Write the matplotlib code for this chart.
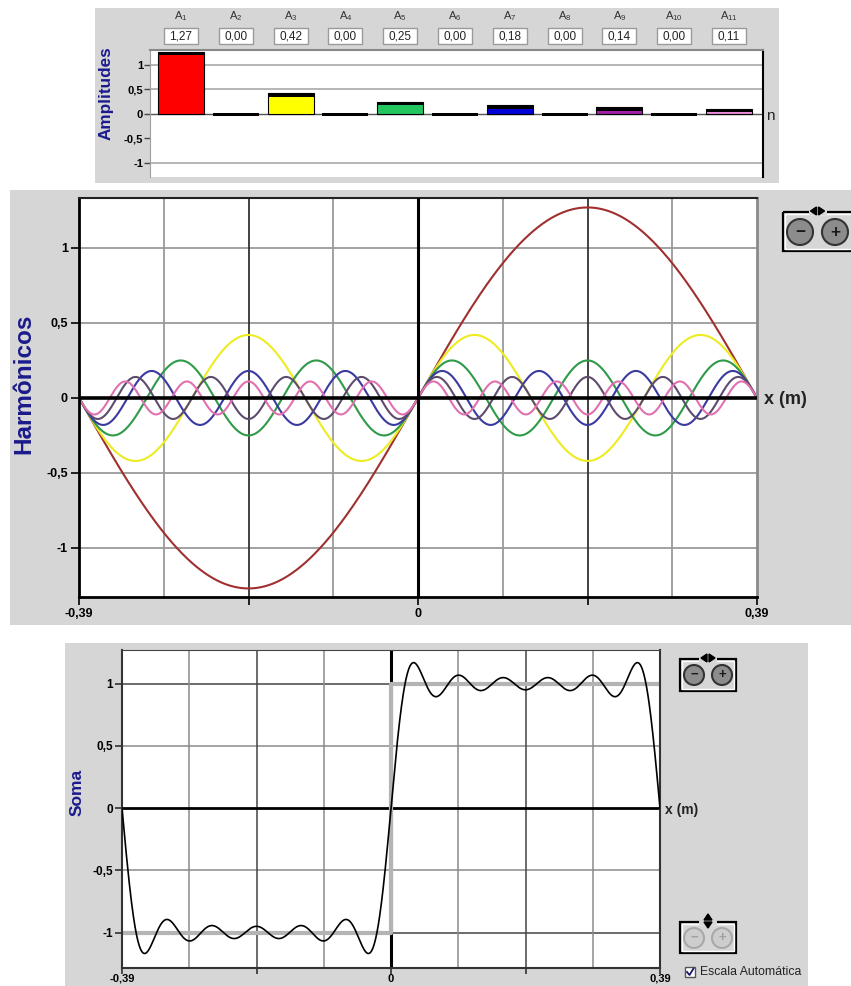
import numpy as np
import matplotlib
matplotlib.use('Agg')
import matplotlib.pyplot as plt
import matplotlib.transforms as mtransforms
from matplotlib.patches import Rectangle, Circle, Polygon

plt.rcParams['font.family'] = ['Liberation Sans', 'DejaVu Sans']

# ------------------------------------------------------------
#  data
# ------------------------------------------------------------
harm_n = [1, 2, 3, 4, 5, 6, 7, 8, 9, 10, 11]
amplitudes = [1.27, 0.00, 0.42, 0.00, 0.25, 0.00, 0.18, 0.00, 0.14, 0.00, 0.11]
amp_text = ['1,27', '0,00', '0,42', '0,00', '0,25', '0,00', '0,18', '0,00', '0,14', '0,00', '0,11']
bar_colors = ['#ff0000', '#000000', '#ffff00', '#000000', '#22c55e', '#000000',
              '#0000d8', '#000000', '#a020a8', '#000000', '#e88ad8']
curve_colors = ['#a03030', None, '#ecec20', None, '#2f9a48', None,
                '#3a3aa0', None, '#5e4c6e', None, '#e070b0']
half_len = 0.39          # x range is -0.39 .. 0.39 m
y_ticks = [-1, -0.5, 0, 0.5, 1]
y_tick_labels = ['-1', '-0,5', '0', '0,5', '1']
x_ticks = [-0.39, -0.195, 0, 0.195, 0.39]
x_tick_labels = ['-0,39', '', '0', '', '0,39']

W, H = 851, 986
NAVY = '#1a1a8c'
PANEL = '#d6d6d6'

fig = plt.figure(figsize=(W / 100, H / 100), dpi=100)
fig.patch.set_facecolor('white')


def px_axes(l, t, r, b, **kw):
    return fig.add_axes([l / W, 1 - b / H, (r - l) / W, (b - t) / H], **kw)


# background panels (pixel coordinates)
bg = px_axes(0, 0, W, H, zorder=-10)
bg.set_xlim(0, W); bg.set_ylim(H, 0); bg.axis('off')
for (l, t, r, b) in [(95, 8, 779, 183), (10, 190, 851, 625), (65, 643, 808, 986)]:
    bg.add_patch(Rectangle((l, t), r - l, b - t, facecolor=PANEL, edgecolor='none'))

# ============================================================
#  Panel 1: amplitudes
# ============================================================
ax1 = px_axes(150, 50, 763, 177)
ax1.set_xlim(0.434, 11.62)
ax1.set_ylim(-1.286, 1.306)
for v in [1, 0.5, -1]:
    ax1.axhline(v, color='#b0b0b0', lw=1.3, zorder=0)
ax1.axhline(0, color='#555555', lw=1.0, zorder=1)

strip = 0.07
for n, a, c in zip(harm_n, amplitudes, bar_colors):
    if a > 0:
        ax1.bar(n, a, width=0.84, color=c, edgecolor='black', lw=0.8, zorder=2)
        ax1.bar(n, strip, bottom=a - strip, width=0.84, color='black', zorder=3)
    else:
        ax1.bar(n, 0.06, bottom=-0.04, width=0.84, color='black', zorder=3)

blend = mtransforms.blended_transform_factory(ax1.transData, ax1.transAxes)
for n, t in zip(harm_n, amp_text):
    ax1.add_patch(Rectangle((n - 0.31, 1.045), 0.62, 0.13, transform=blend, clip_on=False,
                            facecolor='white', edgecolor='#9a9a9a', lw=1.0))
    ax1.text(n, 1.11, t, transform=blend, ha='center', va='center', fontsize=8.5, color='#222222')
    ax1.text(n, 1.27, '$\\mathregular{A_{%d}}$' % n, transform=blend, ha='center', va='center',
             fontsize=8, color='#333333')

ax1.set_xticks([])
ax1.set_yticks(y_ticks)
ax1.set_yticklabels(y_tick_labels, fontsize=8, fontweight='bold')
ax1.tick_params(axis='y', length=4, width=1, color='#444444', pad=1)
ax1.spines['left'].set_color('#a0a0a0')
ax1.spines['top'].set_color('#888888'); ax1.spines['top'].set_linewidth(1.5)
ax1.spines['right'].set_color('black'); ax1.spines['right'].set_linewidth(1.5)
ax1.spines['bottom'].set_visible(False)

# ============================================================
#  Panel 2: harmonics
# ============================================================
x = np.linspace(-half_len, half_len, 1200)
harmonics = [a * np.sin(n * np.pi * x / half_len) for n, a in zip(harm_n, amplitudes)]

ax2 = px_axes(79, 198, 757, 597)
ax2.set_xlim(-half_len, half_len)
ax2.set_ylim(-1.327, 1.333)
for v in [1, 0.5, -0.5, -1]:
    ax2.axhline(v, color='#9a9a9a', lw=1.3, zorder=0)
for i, v in enumerate(np.linspace(-half_len, half_len, 9)[1:-1]):
    if i == 3:
        continue
    dark = i in (1, 5)
    ax2.axvline(v, color='#333333' if dark else '#9a9a9a', lw=1.3, zorder=0)
ax2.axvline(0, color='black', lw=2.2, zorder=3)
ax2.axhline(0, color='black', lw=2.6, zorder=3)

for n, y, c in zip(harm_n, harmonics, curve_colors):
    if c is not None:
        ax2.plot(x, y, color=c, lw=1.5, zorder=2)

ax2.set_yticks(y_ticks)
ax2.set_yticklabels(y_tick_labels, fontsize=9, fontweight='bold')
ax2.set_xticks(x_ticks)
ax2.set_xticklabels(x_tick_labels, fontsize=9, fontweight='bold')
ax2.tick_params(axis='both', length=6, width=1.2, color='black', pad=2)
for s in ['left', 'bottom']:
    ax2.spines[s].set_linewidth(2)
ax2.spines['top'].set_linewidth(1.5); ax2.spines['top'].set_color('#222222')
ax2.spines['right'].set_linewidth(2); ax2.spines['right'].set_color('#8a8a8a')

# ============================================================
#  Panel 3: sum
# ============================================================
soma = np.sum(harmonics, axis=0)

ax3 = px_axes(122, 650, 660, 968)
ax3.set_xlim(-half_len, half_len)
ax3.set_ylim(-1.285, 1.27)
for v in [1, -1]:
    ax3.axhline(v, color='#444444', lw=1.1, zorder=0)
for v in [0.5, -0.5]:
    ax3.axhline(v, color='#8a8a8a', lw=1.1, zorder=0)
for i, v in enumerate(np.linspace(-half_len, half_len, 9)[1:-1]):
    if i == 3:
        continue
    dark = i in (1, 5)
    ax3.axvline(v, color='#444444' if dark else '#8a8a8a', lw=1.1, zorder=0)
ax3.axvline(0, color='black', lw=2.2, zorder=1)
ax3.axhline(0, color='black', lw=2.0, zorder=1)
# target square wave
ax3.plot([-half_len, 0, 0, half_len], [-1, -1, 1, 1], color='#b4b4b4', lw=3, zorder=2)
ax3.plot(x, soma, color='black', lw=1.2, zorder=3)

ax3.set_yticks(y_ticks)
ax3.set_yticklabels(y_tick_labels, fontsize=8.5, fontweight='bold')
ax3.set_xticks(x_ticks)
ax3.set_xticklabels(x_tick_labels, fontsize=8, fontweight='bold')
ax3.tick_params(axis='y', length=5, width=1.1, color='#222222', pad=1.5)
ax3.tick_params(axis='x', length=4, width=1.1, color='#222222', pad=0.3)
for s in ['left', 'bottom', 'right']:
    ax3.spines[s].set_linewidth(1.5); ax3.spines[s].set_color('#333333')
ax3.spines['top'].set_color('#444444')

# ============================================================
#  Overlay: labels, buttons, checkbox
# ============================================================
ov = px_axes(0, 0, W, H, zorder=10)
ov.set_xlim(0, W); ov.set_ylim(H, 0); ov.axis('off')
ov.patch.set_alpha(0)

ov.text(106, 93, 'Amplitudes', rotation=90, ha='center', va='center', fontsize=12.3,
        fontweight='bold', color=NAVY)
ov.text(24, 384, 'Harmônicos', rotation=90, ha='center', va='center', fontsize=17.5,
        fontweight='bold', color=NAVY)
ov.text(77, 792, 'Soma', rotation=90, ha='center', va='center', fontsize=12.5,
        fontweight='bold', color=NAVY)
ov.text(766, 116, 'n', ha='left', va='center', fontsize=11, color='#222222')
ov.text(764, 399, 'x (m)', ha='left', va='center', fontsize=13, fontweight='bold', color='#222222')
ov.text(665, 810, 'x (m)', ha='left', va='center', fontsize=10, fontweight='bold', color='#222222')


def zoom_button(x0, y0, w, h, r, cm, cp, arrows='h', active=True):
    face = '#8c8c8c' if active else '#cdcdcd'
    edge = '#333333' if active else '#a8a8a8'
    sign = '#1a1a1a' if active else '#a0a0a0'
    ov.add_patch(Rectangle((x0, y0), w, h, facecolor='none', edgecolor='black', lw=1.6))
    ov.add_patch(Rectangle((x0 + 2, y0 + 2), w - 4, h - 4, facecolor='none', edgecolor='white', lw=1))
    for (cx, cy), s in [(cm, '−'), (cp, '+')]:
        ov.add_patch(Circle((cx, cy), r, facecolor=face, edgecolor=edge, lw=1.5))
        ov.text(cx, cy, s, ha='center', va='center', fontsize=r * 0.95, fontweight='bold', color=sign)
    mx = (cm[0] + cp[0]) / 2
    ov.add_patch(Rectangle((mx - 9, y0 - 3), 18, 6, facecolor=PANEL, edgecolor='none'))
    if arrows == 'h':
        ov.add_patch(Polygon([(mx - 1, y0 - 5), (mx - 1, y0 + 3), (mx - 7, y0 - 1)], color='black'))
        ov.add_patch(Polygon([(mx + 1, y0 - 5), (mx + 1, y0 + 3), (mx + 7, y0 - 1)], color='black'))
    else:
        ov.add_patch(Polygon([(mx - 4, y0 - 2), (mx + 4, y0 - 2), (mx, y0 - 8)], color='black'))
        ov.add_patch(Polygon([(mx - 4, y0), (mx + 4, y0), (mx, y0 + 6)], color='black'))


zoom_button(783, 212, 80, 39, 13, (800, 232), (835, 232))
zoom_button(680, 659, 56, 32, 10, (694, 675), (722, 675))
zoom_button(680, 922, 56, 31, 10, (694, 938), (722, 938), arrows='v', active=False)

# checkbox
ov.add_patch(Rectangle((685, 967), 10, 10, facecolor='white', edgecolor='#555555', lw=1))
ov.plot([687, 689.5, 693.5], [972, 975, 968.5], color='#1a1a6a', lw=1.3)
ov.text(700, 972, 'Escala Automática', ha='left', va='center', fontsize=8.8, color='#222222')

plt.savefig('out.png', dpi=100)
plt.close()
